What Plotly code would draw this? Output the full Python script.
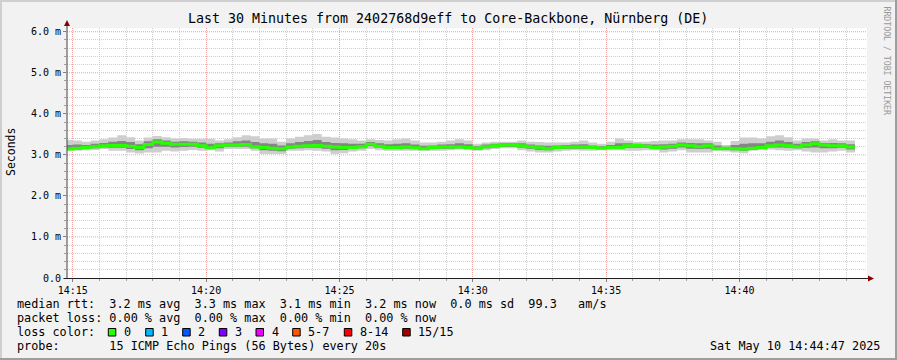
import plotly.graph_objects as go
import pandas as pd

# ---------------- data (ms), one value per 20 s step starting 14:14:40 ----------------
median_ms = [3.14, 3.16, 3.18, 3.20, 3.22, 3.23, 3.23, 3.21, 3.18, 3.25,
             3.31, 3.28, 3.26, 3.26, 3.26, 3.22, 3.17, 3.22, 3.24, 3.24,
             3.25, 3.20, 3.18, 3.16, 3.15, 3.19, 3.21, 3.22, 3.23, 3.21,
             3.19, 3.18, 3.18, 3.20, 3.26, 3.21, 3.18, 3.18, 3.19, 3.17,
             3.15, 3.18, 3.19, 3.19, 3.19, 3.18, 3.16, 3.20, 3.22, 3.24,
             3.24, 3.22, 3.20, 3.17, 3.15, 3.18, 3.19, 3.19, 3.19, 3.18,
             3.16, 3.18, 3.18, 3.22, 3.23, 3.21, 3.18, 3.19, 3.21, 3.24,
             3.22, 3.20, 3.22, 3.15, 3.16, 3.15, 3.14, 3.16, 3.18, 3.22,
             3.24, 3.22, 3.20, 3.24, 3.27, 3.24, 3.22, 3.22, 3.19]
ping_max_ms = [3.36, 3.35, 3.32, 3.35, 3.38, 3.42, 3.48, 3.43, 3.35, 3.42,
               3.46, 3.43, 3.40, 3.41, 3.39, 3.39, 3.39, 3.35, 3.38, 3.43,
               3.48, 3.45, 3.40, 3.40, 3.32, 3.40, 3.44, 3.48, 3.51, 3.44,
               3.42, 3.40, 3.38, 3.35, 3.38, 3.36, 3.35, 3.38, 3.40, 3.35,
               3.30, 3.30, 3.32, 3.35, 3.38, 3.35, 3.27, 3.30, 3.32, 3.32,
               3.32, 3.35, 3.32, 3.31, 3.30, 3.30, 3.30, 3.32, 3.35, 3.30,
               3.27, 3.32, 3.40, 3.35, 3.32, 3.32, 3.34, 3.35, 3.35, 3.38,
               3.38, 3.38, 3.35, 3.32, 3.24, 3.34, 3.42, 3.42, 3.40, 3.45,
               3.48, 3.43, 3.35, 3.40, 3.40, 3.35, 3.38, 3.35, 3.35]
ping_min_ms = [3.10, 3.10, 3.11, 3.12, 3.14, 3.10, 3.10, 3.06, 3.03, 3.06,
               3.06, 3.10, 3.08, 3.10, 3.12, 3.10, 3.11, 3.08, 3.14, 3.14,
               3.14, 3.10, 3.02, 3.02, 3.02, 3.10, 3.10, 3.11, 3.10, 3.08,
               3.02, 3.04, 3.08, 3.10, 3.14, 3.11, 3.10, 3.10, 3.10, 3.10,
               3.10, 3.10, 3.10, 3.11, 3.13, 3.11, 3.10, 3.11, 3.14, 3.16,
               3.16, 3.11, 3.08, 3.06, 3.06, 3.08, 3.10, 3.11, 3.10, 3.10,
               3.11, 3.11, 3.11, 3.10, 3.10, 3.11, 3.11, 3.06, 3.08, 3.11,
               3.06, 3.06, 3.06, 3.10, 3.08, 3.06, 3.04, 3.10, 3.11, 3.13,
               3.11, 3.10, 3.11, 3.08, 3.06, 3.06, 3.08, 3.10, 3.06]
mid_hi_ms = [3.24, 3.25, 3.24, 3.27, 3.29, 3.32, 3.34, 3.31, 3.26, 3.33,
             3.38, 3.35, 3.32, 3.33, 3.32, 3.30, 3.27, 3.28, 3.30, 3.33,
             3.35, 3.31, 3.28, 3.27, 3.23, 3.28, 3.31, 3.34, 3.36, 3.31,
             3.29, 3.28, 3.27, 3.27, 3.31, 3.28, 3.26, 3.27, 3.28, 3.25,
             3.22, 3.23, 3.25, 3.26, 3.28, 3.26, 3.21, 3.25, 3.27, 3.28,
             3.28, 3.28, 3.25, 3.23, 3.22, 3.23, 3.24, 3.25, 3.26, 3.23,
             3.21, 3.24, 3.28, 3.28, 3.27, 3.26, 3.25, 3.26, 3.27, 3.30,
             3.29, 3.28, 3.28, 3.23, 3.20, 3.24, 3.27, 3.28, 3.28, 3.32,
             3.35, 3.31, 3.27, 3.31, 3.33, 3.29, 3.29, 3.28, 3.26]
mid_lo_ms = [3.12, 3.13, 3.15, 3.16, 3.18, 3.17, 3.17, 3.14, 3.11, 3.16,
             3.20, 3.20, 3.18, 3.19, 3.20, 3.17, 3.14, 3.16, 3.20, 3.20,
             3.20, 3.16, 3.11, 3.10, 3.09, 3.15, 3.16, 3.17, 3.17, 3.15,
             3.11, 3.12, 3.14, 3.16, 3.21, 3.17, 3.14, 3.14, 3.15, 3.14,
             3.13, 3.14, 3.15, 3.15, 3.16, 3.15, 3.13, 3.16, 3.18, 3.20,
             3.20, 3.17, 3.15, 3.12, 3.11, 3.14, 3.15, 3.15, 3.15, 3.14,
             3.14, 3.15, 3.15, 3.17, 3.17, 3.17, 3.15, 3.13, 3.15, 3.18,
             3.15, 3.14, 3.15, 3.13, 3.12, 3.11, 3.10, 3.13, 3.15, 3.18,
             3.18, 3.17, 3.16, 3.17, 3.18, 3.16, 3.16, 3.17, 3.13]

y_tick_vals = [0, 1, 2, 3, 4, 5, 6]
y_tick_text = ["0.0", "1.0 m", "2.0 m", "3.0 m", "4.0 m", "5.0 m", "6.0 m"]
y_minor_vals = [round(v / 5, 1) for v in range(0, 31) if v % 5 != 0]

x_major_ticks = ["2025-05-10 14:15:00", "2025-05-10 14:20:00", "2025-05-10 14:25:00",
                 "2025-05-10 14:30:00", "2025-05-10 14:35:00", "2025-05-10 14:40:00"]
x_tick_text = ["14:15", "14:20", "14:25", "14:30", "14:35", "14:40"]
x_minor_ticks = [t for t in pd.date_range("2025-05-10 14:15:00", "2025-05-10 14:44:00", freq="1min")
                 if t.minute % 5 != 0]

loss_labels = ["0", "1", "2", "3", "4", "5-7", "8-14", "15/15"]
loss_colors = ["#26ff00", "#00b8ff", "#0059ff", "#7e00ff", "#ee00ff",
               "#ff5500", "#ff0000", "#a10000"]

title_text = "Last 30 Minutes from 2402768d9eff to Core-Backbone, Nürnberg (DE)"
legend_lines = [
    "median rtt:  3.2 ms avg  3.3 ms max  3.1 ms min  3.2 ms now  0.0 ms sd  99.3   am/s",
    "packet loss: 0.00 % avg  0.00 % max  0.00 % min  0.00 % now",
    "loss color:",
    "probe:       15 ICMP Echo Pings (56 Bytes) every 20s",
]
stamp_text = "Sat May 10 14:44:47 2025"

# ---------------- geometry ----------------
W, H = 897, 360
L, R, T, B = 67, 30, 28, 82
PW, PH = W - L - R, H - T - B
FONT = "DejaVu Sans Mono"


def px(x):
    return (x - L) / PW


def py(y):
    return (H - B - y) / PH


edges = pd.date_range("2025-05-10 14:14:40", periods=len(median_ms) + 1, freq="20s")


def stepped(v):
    return list(v) + [v[-1]]


fig = go.Figure()


def band(upper, lower, color):
    fig.add_trace(go.Scatter(x=edges, y=stepped(upper), mode="lines",
                             line=dict(width=0, shape="hv", color=color),
                             showlegend=False, hoverinfo="skip"))
    fig.add_trace(go.Scatter(x=edges, y=stepped(lower), mode="lines",
                             line=dict(width=0, shape="hv", color=color),
                             fill="tonexty", fillcolor=color,
                             showlegend=False, hoverinfo="skip"))


band(ping_max_ms, ping_min_ms, "#cecece")
band(mid_hi_ms, mid_lo_ms, "#858585")
fig.add_trace(go.Scatter(x=edges, y=stepped(median_ms), mode="lines",
                         line=dict(width=3, shape="hv", color=loss_colors[0]),
                         showlegend=False, hoverinfo="skip"))

minor_grid = "#cfcfcf"
major_grid = "#f2a0a0"

fig.update_xaxes(
    type="date",
    range=["2025-05-10 14:14:47", "2025-05-10 14:44:47"],
    tickvals=x_major_ticks, ticktext=x_tick_text,
    showgrid=True, gridcolor=major_grid, griddash="1px,1px", gridwidth=1,
    ticks="outside", ticklen=3, tickcolor="#808080",
    minor=dict(tickvals=x_minor_ticks, showgrid=True, gridcolor=minor_grid,
               griddash="1px,1px", ticks="outside", ticklen=2, tickcolor="#a0a0a0"),
    showline=False, zeroline=False,
    tickfont=dict(family=FONT, size=10, color="#000"),
)
fig.update_yaxes(
    range=[0, 6.09],
    tickvals=y_tick_vals, ticktext=y_tick_text,
    showgrid=False,
    ticks="outside", ticklen=3, tickcolor="#808080",
    minor=dict(tickvals=y_minor_vals, showgrid=True, gridcolor=minor_grid,
               griddash="1px,1px", ticks="outside", ticklen=2, tickcolor="#a0a0a0"),
    showline=False, zeroline=False,
    tickfont=dict(family=FONT, size=10, color="#000"),
)

shapes = []
# major horizontal grid lines (dotted pink), under the data
for v in y_tick_vals[1:]:
    shapes.append(dict(type="line", xref="paper", yref="y", x0=0, x1=1, y0=v, y1=v,
                       line=dict(color=major_grid, width=1, dash="1px,1px"), layer="below"))
# 3D border of the image
shapes.append(dict(type="rect", xref="paper", yref="paper", x0=px(0), x1=px(W), y0=py(0), y1=py(2),
                   fillcolor="#cfcfcf", line=dict(width=0), layer="above"))
shapes.append(dict(type="rect", xref="paper", yref="paper", x0=px(0), x1=px(2), y0=py(0), y1=py(H),
                   fillcolor="#cfcfcf", line=dict(width=0), layer="above"))
shapes.append(dict(type="rect", xref="paper", yref="paper", x0=px(0), x1=px(W), y0=py(H - 2), y1=py(H),
                   fillcolor="#9e9e9e", line=dict(width=0), layer="above"))
shapes.append(dict(type="rect", xref="paper", yref="paper", x0=px(W - 2), x1=px(W), y0=py(0), y1=py(H),
                   fillcolor="#9e9e9e", line=dict(width=0), layer="above"))
# axes lines with arrows
axis_col = "#404040"
arrow_col = "#8b0000"
shapes.append(dict(type="line", xref="paper", yref="paper", x0=px(67), x1=px(67), y0=py(278.5), y1=py(25),
                   line=dict(color=axis_col, width=1), layer="above"))
shapes.append(dict(type="line", xref="paper", yref="paper", x0=px(64), x1=px(869), y0=py(278.5), y1=py(278.5),
                   line=dict(color="#202020", width=1), layer="above"))
shapes.append(dict(type="path", xref="paper", yref="paper",
                   path=f"M {px(64)} {py(26)} L {px(70)} {py(26)} L {px(67)} {py(20)} Z",
                   fillcolor=arrow_col, line=dict(width=0), layer="above"))
shapes.append(dict(type="path", xref="paper", yref="paper",
                   path=f"M {px(868)} {py(275.5)} L {px(868)} {py(281.5)} L {px(874)} {py(278.5)} Z",
                   fillcolor=arrow_col, line=dict(width=0), layer="above"))

annotations = []
NB = "\u00a0"


def txt(s, x, y, size, xanchor="left", angle=0, color="#000"):
    annotations.append(dict(text=s.replace(" ", NB), x=px(x), y=py(y), xref="paper", yref="paper",
                            xanchor=xanchor, yanchor="middle", showarrow=False, textangle=angle,
                            font=dict(family=FONT, size=size, color=color), borderpad=0))


txt(title_text, 448, 19, 13.3, xanchor="center")
txt("Seconds", 10.5, 152.5, 11.5, xanchor="center", angle=-90)
txt("RRDTOOL / TOBI OETIKER", 886.5, 61, 8.2, xanchor="center", angle=90, color="#999999")

row_y = [304, 318, 332, 346]
for line, yy in zip(legend_lines, row_y):
    txt(line, 15.5, yy, 11.8)
txt(stamp_text, 881, row_y[3], 11.8, xanchor="right")

box_x = [108.3, 145.7, 182.7, 219.3, 256.0, 292.7, 344.3, 402.7]
for bx, lab, col in zip(box_x, loss_labels, loss_colors):
    shapes.append(dict(type="rect", xref="paper", yref="paper", x0=px(bx), x1=px(bx + 7.5),
                       y0=py(328.5), y1=py(336), fillcolor=col,
                       line=dict(color="#000", width=1), layer="above"))
    txt(lab, bx + 14.5, row_y[2], 11.8)

fig.update_layout(
    width=W, height=H,
    margin=dict(l=L, r=R, t=T, b=B, pad=0),
    paper_bgcolor="#f2f2f2", plot_bgcolor="#ffffff",
    font=dict(family=FONT, size=10, color="#000"),
    showlegend=False, shapes=shapes, annotations=annotations,
)

fig.write_html("out.html")
